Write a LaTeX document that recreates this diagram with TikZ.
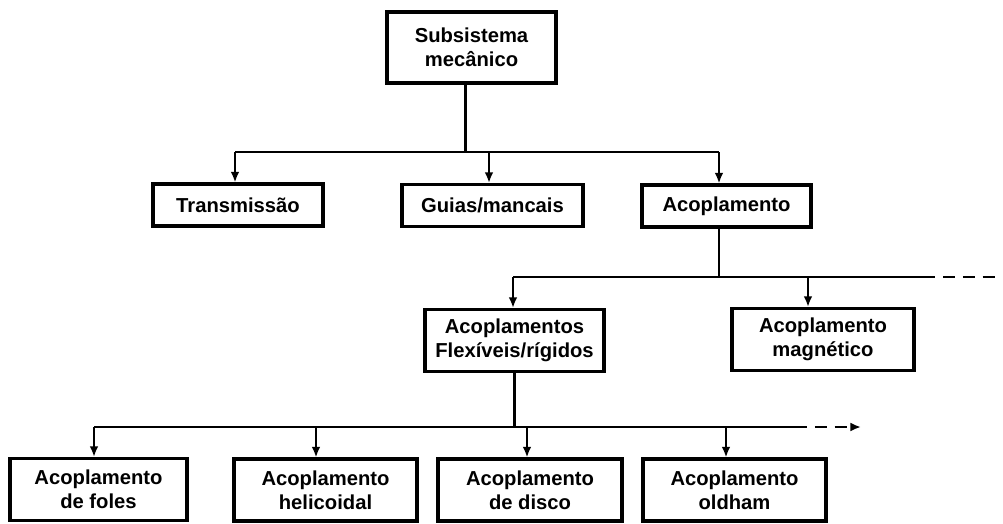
\documentclass[tikz,border=0pt]{standalone}
\usepackage{fontspec}
\setmainfont{Liberation Sans}
\usetikzlibrary{arrows.meta}
\tikzset{
  box/.style={draw,line width=1.8pt,align=center,inner sep=0pt,
    minimum height=8.4mm,font=\fontsize{11.5}{13.6}\selectfont\bfseries},
  tall/.style={minimum height=12.4mm},
  wire/.style={line width=1.4pt},
  arr/.style={wire,-{Latex[length=6pt,width=5pt]}},
  dashwire/.style={wire,dash pattern=on 6.8pt off 4.5pt}
}
\begin{document}
\begin{tikzpicture}[x=0.2mm,y=-0.2mm]
\useasboundingbox (0,0) rectangle (1003,523);
\node[box,minimum width=33.8mm,minimum height=14.2mm](sub)at(471.5,47.5){Subsistema\\mecânico};
\node[box,minimum width=34mm](trans)at(238,205){Transmissão};
\node[box,minimum width=36.2mm](guias)at(492.5,205.5){Guias/mancais};
\node[box,minimum width=33.8mm](acop)at(726.5,206){Acoplamento};
\node[box,tall,minimum width=35.8mm](flex)at(514.5,340.5){Acoplamentos\\Flexíveis/rígidos};
\node[box,tall,minimum width=36.4mm](mag)at(823,339.5){Acoplamento\\magnético};
\node[box,tall,minimum width=35.4mm](foles)at(98.5,489.5){Acoplamento\\de foles};
\node[box,tall,minimum width=36.6mm](heli)at(325.5,490){Acoplamento\\helicoidal};
\node[box,tall,minimum width=36.8mm](disco)at(530,490){Acoplamento\\de disco};
\node[box,tall,minimum width=36.6mm](oldham)at(734.5,490){Acoplamento\\oldham};
\coordinate(b1)at(0,152);
\coordinate(b2)at(0,277);
\coordinate(b3)at(0,427);
\coordinate(e2)at(935,277);
\coordinate(e2end)at(998,277);
\coordinate(e3)at(795,427);
\coordinate(e3end)at(861,427);
\draw[wire] ([xshift=-1.2mm]sub.south)--([xshift=-1.2mm]sub.south|-b1) ([xshift=-0.6mm]trans.north|-b1)--([xshift=-1.5mm]acop.north|-b1);
\foreach \n/\d in {trans/-0.6,guias/-0.7,acop/-1.5} \draw[arr] ([xshift=\d mm]\n.north|-b1)--([xshift=\d mm]\n.north);
\draw[wire] ([xshift=-1.5mm]acop.south)--([xshift=-1.5mm]acop.south|-b2) ([xshift=-0.3mm]flex.north|-b2)--(e2);
\draw[dashwire] ([xshift=1.6mm]e2)--(e2end);
\foreach \n/\d in {flex/-0.3,mag/-3} \draw[arr] ([xshift=\d mm]\n.north|-b2)--([xshift=\d mm]\n.north);
\draw[wire] (flex.south)--(flex.south|-b3) ([xshift=-0.9mm]foles.north|-b3)--(e3);
\draw[dashwire,-{Latex[length=6pt,width=5pt]}] (e3)--(e3end);
\foreach \n/\d in {foles/-0.9,heli/-1.9,disco/-0.6,oldham/-1.7} \draw[arr] ([xshift=\d mm]\n.north|-b3)--([xshift=\d mm]\n.north);
\end{tikzpicture}
\end{document}
